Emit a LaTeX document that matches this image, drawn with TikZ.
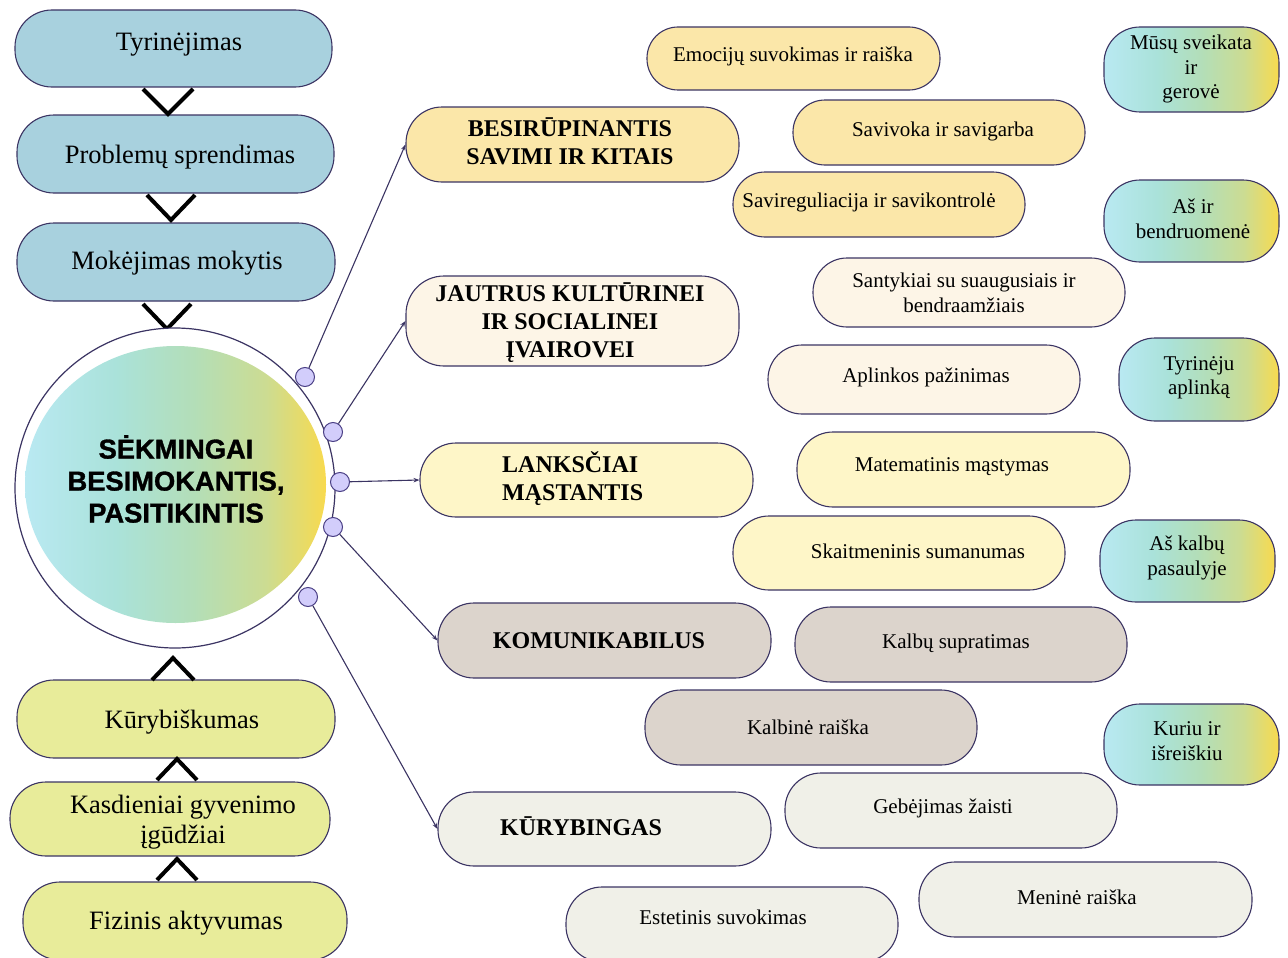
\documentclass[tikz,border=0pt]{standalone}
\usepackage{fontspec}
\setmainfont{Liberation Serif}
\newfontfamily\headfont{Liberation Sans}[FakeBold=1.2]
\usetikzlibrary{arrows.meta,shapes.geometric}
\definecolor{edge}{HTML}{3B3463}
\definecolor{dotedge}{HTML}{4A3F85}
\definecolor{dotfill}{HTML}{D2CDFB}
\definecolor{leftblue}{HTML}{A8D1DE}
\definecolor{leftgreen}{HTML}{E8EC9A}
\definecolor{cwheat}{HTML}{FBE7A9}
\definecolor{ccream}{HTML}{FDF5E7}
\definecolor{clemon}{HTML}{FEF6C8}
\definecolor{ctaupe}{HTML}{DCD4CC}
\definecolor{cgrey}{HTML}{F0F0E8}
\definecolor{ga}{HTML}{B9E9F2}
\definecolor{gb}{HTML}{AAE2DA}
\definecolor{gc}{HTML}{B3DEB8}
\definecolor{gd}{HTML}{CCDC92}
\definecolor{ge}{HTML}{F8DA4E}
\pgfdeclarehorizontalshading{gradcg}{100bp}{color(0bp)=(ga); color(25bp)=(ga); color(40bp)=(gb); color(53bp)=(gc); color(65bp)=(gd); color(75bp)=(ge); color(100bp)=(ge)}
\begin{document}
\begin{tikzpicture}[x=1pt,y=-1pt,
  box/.style={draw=edge, line width=1.1pt, inner sep=0pt},
  grad/.style={box, shading=gradcg, rounded corners=36pt, minimum width=175pt},
  lefttxt/.style={font=\fontsize{26.5}{30}\selectfont, align=center, inner sep=0pt},
  smalltxt/.style={font=\fontsize{21}{24.5}\selectfont, align=center, inner sep=0pt},
  boldtxt/.style={font=\fontsize{24}{28}\selectfont\bfseries, align=center, inner sep=0pt},
  dot/.style={circle, draw=dotedge, fill=dotfill, line width=1pt, minimum size=19pt, inner sep=0pt},
  conn/.style={draw=edge, line width=1.1pt, -{Stealth[length=6pt,width=4.5pt]}},
  chev/.style={line width=4pt, black}]
\useasboundingbox (0,0) rectangle (1288,958);

% left column
\node[box, fill=leftblue, rounded corners=37pt, minimum width=317pt, minimum height=77pt] (l1) at (173.5,48.5) {};
\node[box, fill=leftblue, rounded corners=37pt, minimum width=317pt, minimum height=78pt] (l2) at (175.5,154) {};
\node[box, fill=leftblue, rounded corners=37pt, minimum width=318pt, minimum height=78pt] (l3) at (176,262) {};
\node[box, fill=leftgreen, rounded corners=37pt, minimum width=318pt, minimum height=78pt] (l4) at (176,719) {};
\node[box, fill=leftgreen, rounded corners=36pt, minimum width=320pt, minimum height=74pt] (l5) at (170,819) {};
\node[box, fill=leftgreen, rounded corners=37pt, minimum width=324pt, minimum height=78pt] (l6) at (185,921) {};
\node[lefttxt] (l1t) at (179,45) {Tyrinėjimas};
\node[lefttxt] (l2t) at (180,157) {Problemų sprendimas};
\node[lefttxt] (l3t) at (177,263) {Mokėjimas mokytis};
\node[lefttxt] (l4t) at (182,722) {Kūrybiškumas};
\node[lefttxt] (l5t) at (183,822) {Kasdieniai gyvenimo\\įgūdžiai};
\node[lefttxt] (l6t) at (186,923) {Fizinis aktyvumas};

% chevrons
\draw[chev] (143,89) -- (168,114) -- (193,89);
\draw[chev] (147,195) -- (171,220) -- (195,195);
\draw[chev] (143,304) -- (167,329) -- (191,304);
\draw[chev] (152,680) -- (173,658) -- (194,680);
\draw[chev] (157,780) -- (177,759) -- (197,780);
\draw[chev] (157,880) -- (177,859) -- (197,880);

% core circle
\node[circle, draw=edge, fill=white, line width=1.2pt, minimum size=320pt, inner sep=0pt] (core) at (175,488) {};
\node[ellipse, shading=gradcg, minimum width=301pt, minimum height=277pt, inner sep=0pt] (inner) at (175.5,484.5) {};
\node[font=\headfont\bfseries\fontsize{27.3}{32}\selectfont, align=center, inner sep=0pt] (coret) at (176,479) {SĖKMINGAI\\BESIMOKANTIS,\\PASITIKINTIS};

% middle main boxes
\node[box, fill=cwheat, rounded corners=36pt, minimum width=333pt, minimum height=75pt] (m1) at (572.5,144.5) {};
\node[box, fill=ccream, rounded corners=38pt, minimum width=333pt, minimum height=90pt] (m2) at (572.5,321) {};
\node[box, fill=clemon, rounded corners=36pt, minimum width=333pt, minimum height=74pt] (m3) at (586.5,480) {};
\node[box, fill=ctaupe, rounded corners=36pt, minimum width=333pt, minimum height=75pt] (m4) at (604.5,640.5) {};
\node[box, fill=cgrey, rounded corners=36pt, minimum width=333pt, minimum height=74pt] (m5) at (604.5,829) {};
\node[boldtxt] (m1t) at (570,141) {BESIRŪPINANTIS\\SAVIMI IR KITAIS};
\node[boldtxt] (m2t) at (570,323) {JAUTRUS KULTŪRINEI\\IR SOCIALINEI\\ĮVAIROVEI};
\node[boldtxt, align=left, anchor=west] (m3t) at (502,479) {LANKSČIAI\\MĄSTANTIS};
\node[boldtxt] (m4t) at (599,641) {KOMUNIKABILUS};
\node[boldtxt] (m5t) at (581,826) {KŪRYBINGAS};

% sub boxes
\node[box, fill=cwheat, rounded corners=31pt, minimum width=293pt, minimum height=63pt] (e1) at (793.5,58.5) {};
\node[box, fill=cwheat, rounded corners=32pt, minimum width=292pt, minimum height=65pt] (e2) at (939,132.5) {};
\node[box, fill=cwheat, rounded corners=32pt, minimum width=292pt, minimum height=65pt] (e3) at (879,204.5) {};
\node[box, fill=ccream, rounded corners=34pt, minimum width=312pt, minimum height=69pt] (e4) at (969,292.5) {};
\node[box, fill=ccream, rounded corners=34pt, minimum width=312pt, minimum height=69pt] (e5) at (924,379.5) {};
\node[box, fill=clemon, rounded corners=36pt, minimum width=333pt, minimum height=75pt] (e6) at (963.5,469.5) {};
\node[box, fill=clemon, rounded corners=36pt, minimum width=332pt, minimum height=74pt] (e7) at (899,553) {};
\node[box, fill=ctaupe, rounded corners=36pt, minimum width=332pt, minimum height=75pt] (e8) at (961,644.5) {};
\node[box, fill=ctaupe, rounded corners=36pt, minimum width=332pt, minimum height=75pt] (e9) at (811,727.5) {};
\node[box, fill=cgrey, rounded corners=36pt, minimum width=332pt, minimum height=75pt] (e10) at (951,810.5) {};
\node[box, fill=cgrey, rounded corners=36pt, minimum width=332pt, minimum height=75pt] (e11) at (732,924.5) {};
\node[box, fill=cgrey, rounded corners=36pt, minimum width=333pt, minimum height=75pt] (e12) at (1085.5,899.5) {};
\node[smalltxt] (e1t) at (793,56) {Emocijų suvokimas ir raiška};
\node[smalltxt] (e2t) at (943,131) {Savivoka ir savigarba};
\node[smalltxt] (e3t) at (869,202) {Savireguliacija ir savikontrolė};
\node[smalltxt] (e4t) at (964,293) {Santykiai su suaugusiais ir\\bendraamžiais};
\node[smalltxt] (e5t) at (926,377) {Aplinkos pažinimas};
\node[smalltxt] (e6t) at (952,467) {Matematinis mąstymas};
\node[smalltxt] (e7t) at (918,551) {Skaitmeninis sumanumas};
\node[smalltxt] (e8t) at (956,643) {Kalbų supratimas};
\node[smalltxt] (e9t) at (808,727) {Kalbinė raiška};
\node[smalltxt] (e10t) at (943,808) {Gebėjimas žaisti};
\node[smalltxt] (e11t) at (723,917) {Estetinis suvokimas};
\node[smalltxt] (e12t) at (1077,897) {Meninė raiška};

% gradient boxes
\node[grad, minimum height=85pt] (g1) at (1191.5,69.5) {};
\node[grad, minimum height=82pt] (g2) at (1191.5,221) {};
\node[grad, minimum width=160pt, minimum height=83pt] (g3) at (1199,379.5) {};
\node[grad, minimum height=82pt] (g4) at (1187.5,561) {};
\node[grad, minimum height=81pt] (g5) at (1191.5,744.5) {};
\node[smalltxt] (g1t) at (1191,69) {Mūsų sveikata\\ir\\gerovė};
\node[smalltxt] (g2t) at (1193,219) {Aš ir\\bendruomenė};
\node[smalltxt] (g3t) at (1199,378) {Tyrinėju\\aplinką};
\node[smalltxt] (g4t) at (1187,558) {Aš kalbų\\pasaulyje};
\node[smalltxt] (g5t) at (1187,741) {Kuriu ir\\išreiškiu};

% dots and connectors
\node[dot] (d1) at (305,377) {};
\node[dot] (d2) at (333,432) {};
\node[dot] (d3) at (340,482) {};
\node[dot] (d4) at (333,527) {};
\node[dot] (d5) at (308,597) {};
\draw[conn] (d1) -- (m1.west);
\draw[conn] (d2) -- (m2.west);
\draw[conn] (d3) -- (m3.west);
\draw[conn] (d4) -- (m4.west);
\draw[conn] (d5) -- (m5.west);
\end{tikzpicture}
\end{document}
